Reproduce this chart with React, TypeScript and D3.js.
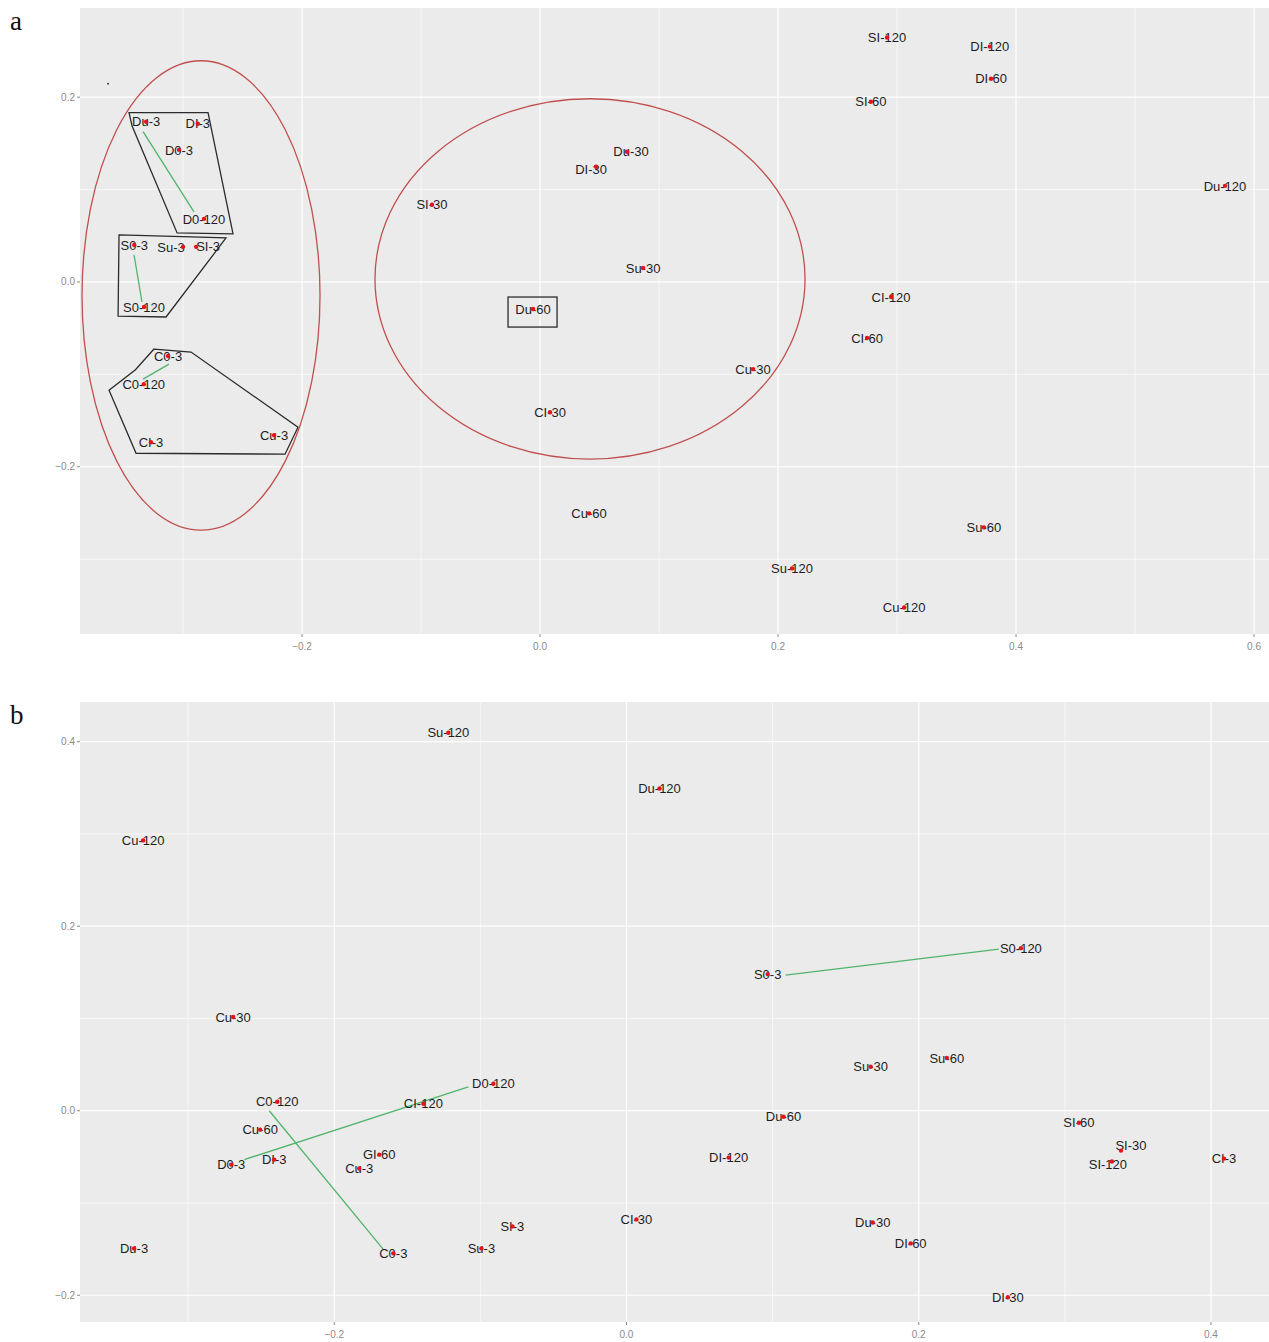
import React from "react";
import * as d3 from "d3";

// ---- Panel a: ordination scores (label, axis 1, axis 2) ----
const aPoints: [string, number, number][] = [
  ["SI-120", 0.2916, 0.2645],
  ["DI-120", 0.378, 0.2547],
  ["DI-60", 0.379, 0.22],
  ["SI-60", 0.278, 0.195],
  ["Du-120", 0.5756, 0.104],
  ["Du-30", 0.0731, 0.141],
  ["DI-30", 0.0471, 0.1247],
  ["SI-30", -0.0908, 0.0835],
  ["Su-30", 0.0866, 0.0152],
  ["CI-120", 0.295, -0.0163],
  ["Du-60", -0.0059, -0.0293],
  ["CI-60", 0.2748, -0.0607],
  ["Cu-30", 0.179, -0.0943],
  ["CI-30", 0.0084, -0.141],
  ["Cu-60", 0.0412, -0.2504],
  ["Su-60", 0.373, -0.2656],
  ["Su-120", 0.2118, -0.31],
  ["Cu-120", 0.306, -0.3523],
  ["Du-3", -0.331, 0.1734],
  ["DI-3", -0.2876, 0.1713],
  ["D0-3", -0.3034, 0.143],
  ["D0-120", -0.2824, 0.0683],
  ["S0-3", -0.341, 0.04],
  ["Su-3", -0.3, 0.038],
  ["SI-3", -0.289, 0.038],
  ["S0-120", -0.3328, -0.027],
  ["C0-3", -0.3126, -0.0802],
  ["C0-120", -0.333, -0.1106],
  ["CI-3", -0.327, -0.1734],
  ["Cu-3", -0.2235, -0.1659],
];

// connecting segments [x1, y1, x2, y2]
const aLinks: [number, number, number, number][] = [
  [-0.3336, 0.1626, -0.2908, 0.0759],
  [-0.3412, 0.0293, -0.3345, -0.0217],
  [-0.3336, -0.1051, -0.3118, -0.0889],
];

// group outlines
const aHulls: [number, number][][] = [
  [[-0.3454, 0.1832], [-0.279, 0.1832], [-0.258, 0.052], [-0.305, 0.0531], [-0.3429, 0.1691]],
  [[-0.3538, 0.0509], [-0.2639, 0.0477], [-0.2715, 0.0347], [-0.3143, -0.0379], [-0.3546, -0.0369]],
  [[-0.3244, -0.0726], [-0.2933, -0.0759], [-0.2034, -0.1572], [-0.2143, -0.1864], [-0.3395, -0.1854], [-0.3622, -0.1171], [-0.34, -0.095]],
];

// box around a single sample [x0, y0, x1, y1]
const aBoxes: [number, number, number, number][] = [[-0.0269, -0.0163, 0.0143, -0.0488]];

// cluster ellipses [cx, cy, rx, ry]
const aEllipses: [number, number, number, number][] = [
  [-0.2849, -0.0146, 0.1, 0.254],
  [0.042, 0.0033, 0.1807, 0.195],
];

const aXTicks = [-0.2, 0.0, 0.2, 0.4, 0.6];
const aXMinor = [-0.3, -0.1, 0.1, 0.3, 0.5];
const aYTicks = [-0.2, 0.0, 0.2];
const aYMinor = [-0.3, -0.1, 0.1];

// ---- Panel b ----
const bPoints: [string, number, number][] = [
  ["Su-120", -0.1219, 0.4097],
  ["Du-120", 0.0226, 0.3492],
  ["Cu-120", -0.3308, 0.293],
  ["S0-120", 0.2699, 0.1762],
  ["S0-3", 0.0966, 0.1481],
  ["Cu-30", -0.2692, 0.1016],
  ["Su-60", 0.2192, 0.0573],
  ["Su-30", 0.1671, 0.0476],
  ["D0-120", -0.0911, 0.0292],
  ["C0-120", -0.239, 0.0097],
  ["CI-120", -0.139, 0.0076],
  ["Du-60", 0.1075, -0.0065],
  ["SI-60", 0.3096, -0.013],
  ["Cu-60", -0.2507, -0.0205],
  ["SI-30", 0.3384, -0.0432],
  ["GI-60", -0.1692, -0.0476],
  ["DI-120", 0.0699, -0.0508],
  ["CI-3", 0.4089, -0.0519],
  ["DI-3", -0.2411, -0.053],
  ["SI-120", 0.3322, -0.0551],
  ["D0-3", -0.2705, -0.0584],
  ["Cu-3", -0.1829, -0.0627],
  ["CI-30", 0.0068, -0.1178],
  ["Du-30", 0.1685, -0.1211],
  ["SI-3", -0.0781, -0.1254],
  ["DI-60", 0.1945, -0.1438],
  ["Du-3", -0.337, -0.1492],
  ["Su-3", -0.0993, -0.1492],
  ["C0-3", -0.1596, -0.1546],
  ["DI-30", 0.261, -0.2022],
];

const bLinks: [number, number, number, number][] = [
  [0.1089, 0.147, 0.2548, 0.1751],
  [-0.2616, -0.053, -0.1082, 0.0259],
  [-0.2445, 0.0, -0.1664, -0.1503],
];

const bXTicks = [-0.2, 0.0, 0.2, 0.4];
const bXMinor = [-0.3, -0.1, 0.1, 0.3];
const bYTicks = [-0.2, 0.0, 0.2, 0.4];
const bYMinor = [-0.1, 0.1, 0.3];

// label nudges (px) for crowded points, keyed by sample name
const aNudge: Record<string, [number, number]> = {
  "Su-3": [-12, 0],
  "SI-3": [12, -1],
  "DI-30": [-5, 3],
  "Du-30": [4, 0],
};
const bNudge: Record<string, [number, number]> = {
  "SI-30": [10, -5],
  "SI-120": [-4, 3],
};

const W = 1269;
const H = 1342;
const fmt = d3.format(".1f");

type PanelProps = {
  tag: string;
  left: number;
  right: number;
  top: number;
  bottom: number;
  xDomain: [number, number];
  yDomain: [number, number];
  xTicks: number[];
  xMinor: number[];
  yTicks: number[];
  yMinor: number[];
  points: [string, number, number][];
  nudge: Record<string, [number, number]>;
  links: [number, number, number, number][];
  hulls?: [number, number][][];
  boxes?: [number, number, number, number][];
  ellipses?: [number, number, number, number][];
  specks?: [number, number][];
};

function Panel(p: PanelProps) {
  const x = d3.scaleLinear().domain(p.xDomain).range([p.left, p.right]);
  const y = d3.scaleLinear().domain(p.yDomain).range([p.bottom, p.top]);
  const line = d3
    .line<[number, number]>()
    .x((d) => x(d[0]))
    .y((d) => y(d[1]))
    .curve(d3.curveLinearClosed);
  const tickColor = "#8a8a8a";
  return (
    <g>
      <text x={10} y={p.top + 22} fontFamily="'Liberation Serif', 'DejaVu Serif', serif" fontSize={27} fill="#111">
        {p.tag}
      </text>
      <rect x={p.left} y={p.top} width={p.right - p.left} height={p.bottom - p.top} fill="#ebebeb" />
      {p.xMinor.map((t) => (
        <line key={"xm" + t} x1={x(t)} x2={x(t)} y1={p.top} y2={p.bottom} stroke="#fff" strokeWidth={0.6} />
      ))}
      {p.yMinor.map((t) => (
        <line key={"ym" + t} x1={p.left} x2={p.right} y1={y(t)} y2={y(t)} stroke="#fff" strokeWidth={0.6} />
      ))}
      {p.xTicks.map((t) => (
        <line key={"xt" + t} x1={x(t)} x2={x(t)} y1={p.top} y2={p.bottom} stroke="#fff" strokeWidth={1.2} />
      ))}
      {p.yTicks.map((t) => (
        <line key={"yt" + t} x1={p.left} x2={p.right} y1={y(t)} y2={y(t)} stroke="#fff" strokeWidth={1.2} />
      ))}
      {/* axis ticks and labels */}
      {p.xTicks.map((t) => (
        <g key={"xl" + t}>
          <line x1={x(t)} x2={x(t)} y1={p.bottom} y2={p.bottom + 3} stroke={tickColor} strokeWidth={1} />
          <text x={x(t)} y={p.bottom + 16} textAnchor="middle" fontFamily="'Liberation Sans', Arial, sans-serif" fontSize={10} fill={tickColor}>
            {fmt(t)}
          </text>
        </g>
      ))}
      {p.yTicks.map((t) => (
        <g key={"yl" + t}>
          <line x1={p.left - 3} x2={p.left} y1={y(t)} y2={y(t)} stroke={tickColor} strokeWidth={1} />
          <text x={p.left - 5} y={y(t)} dy="0.35em" textAnchor="end" fontFamily="'Liberation Sans', Arial, sans-serif" fontSize={10} fill={tickColor}>
            {fmt(t)}
          </text>
        </g>
      ))}
      {(p.specks || []).map((s, i) => (
        <circle key={"sp" + i} cx={x(s[0])} cy={y(s[1])} r={0.9} fill="#222" />
      ))}
      {(p.ellipses || []).map((e, i) => (
        <ellipse
          key={"el" + i}
          cx={x(e[0])}
          cy={y(e[1])}
          rx={x(e[0] + e[2]) - x(e[0])}
          ry={y(e[1]) - y(e[1] + e[3])}
          fill="none"
          stroke="#c0504f"
          strokeWidth={1.3}
        />
      ))}
      {(p.hulls || []).map((h, i) => (
        <path key={"h" + i} d={line(h) || ""} fill="none" stroke="#2b2b2b" strokeWidth={1.3} />
      ))}
      {(p.boxes || []).map((b, i) => (
        <rect
          key={"b" + i}
          x={x(b[0])}
          y={y(b[1])}
          width={x(b[2]) - x(b[0])}
          height={y(b[3]) - y(b[1])}
          fill="none"
          stroke="#2b2b2b"
          strokeWidth={1.3}
        />
      ))}
      {p.links.map((l, i) => (
        <line key={"l" + i} x1={x(l[0])} y1={y(l[1])} x2={x(l[2])} y2={y(l[3])} stroke="#52b46c" strokeWidth={1.3} />
      ))}
      {p.points.map((d) => {
        const n = p.nudge[d[0]] || [0, 0];
        return (
          <text
            key={"t" + d[0]}
            x={x(d[1]) + n[0]}
            y={y(d[2]) + n[1]}
            dy="0.36em"
            textAnchor="middle"
            fontFamily="'Liberation Sans', Arial, sans-serif"
            fontSize={13}
            fill="#1e1e1e"
          >
            {d[0]}
          </text>
        );
      })}
      {p.points.map((d) => (
        <circle key={"c" + d[0]} cx={x(d[1])} cy={y(d[2])} r={2.2} fill="#e3141c" />
      ))}
    </g>
  );
}

export default function App() {
  return (
    <svg width={W} height={H} style={{ position: "absolute", left: 0, top: 0, background: "#fff" }}>
      <rect x={0} y={0} width={W} height={H} fill="#fff" />
      <Panel
        tag="a"
        left={80}
        right={1269}
        top={8}
        bottom={634}
        xDomain={[-0.3866, 0.6126]}
        yDomain={[-0.381, 0.2965]}
        xTicks={aXTicks}
        xMinor={aXMinor}
        yTicks={aYTicks}
        yMinor={aYMinor}
        points={aPoints}
        nudge={aNudge}
        links={aLinks}
        hulls={aHulls}
        boxes={aBoxes}
        ellipses={aEllipses}
        specks={[[-0.363, 0.2146]]}
      />
      <Panel
        tag="b"
        left={80}
        right={1269}
        top={702}
        bottom={1322}
        xDomain={[-0.374, 0.4397]}
        yDomain={[-0.229, 0.443]}
        xTicks={bXTicks}
        xMinor={bXMinor}
        yTicks={bYTicks}
        yMinor={bYMinor}
        points={bPoints}
        nudge={bNudge}
        links={bLinks}
      />
    </svg>
  );
}
